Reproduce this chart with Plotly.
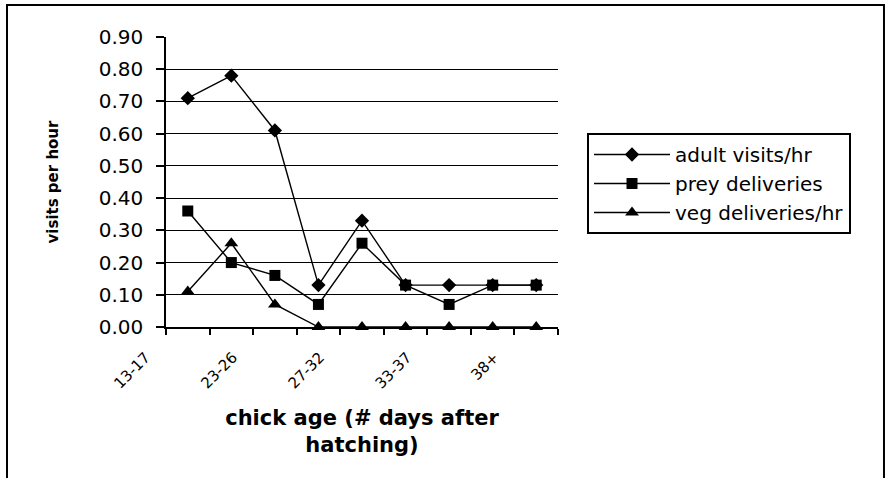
import plotly.graph_objects as go

# Chick age classes (every other class is labelled on the axis)
age_index = [1, 2, 3, 4, 5, 6, 7, 8, 9]
tick_positions = [1, 3, 5, 7, 9]
tick_labels = ["13-17", "23-26", "27-32", "33-37", "38+"]

# Visits per hour by chick age
adult_visits = [0.71, 0.78, 0.61, 0.13, 0.33, 0.13, 0.13, 0.13, 0.13]
prey_deliveries = [0.36, 0.20, 0.16, 0.07, 0.26, 0.13, 0.07, 0.13, 0.13]
veg_deliveries = [0.11, 0.26, 0.07, 0.00, 0.00, 0.00, 0.00, 0.00, 0.00]

y_ticks = [0.0, 0.1, 0.2, 0.3, 0.4, 0.5, 0.6, 0.7, 0.8, 0.9]
grid_values = [0.1, 0.2, 0.3, 0.4, 0.5, 0.6, 0.7, 0.8]

FONT = "DejaVu Sans"

series = [
    ("adult visits/hr", adult_visits, "diamond", 11),
    ("prey deliveries", prey_deliveries, "square", 11),
    ("veg deliveries/hr", veg_deliveries, "triangle-up", 12),
]

fig = go.Figure()

# empty trace that carries the gridline axis
fig.add_trace(go.Scatter(x=[], y=[], yaxis="y2", showlegend=False,
                         hoverinfo="skip"))

for name, values, symbol, size in series:
    fig.add_trace(go.Scatter(
        x=age_index, y=values, name=name, legendgroup=name,
        mode="lines+markers",
        line=dict(color="black", width=1.4),
        marker=dict(symbol=symbol, size=size, color="black"),
        cliponaxis=False,
    ))

fig.update_layout(
    width=887, height=478,
    margin=dict(l=166, r=329, t=37, b=151),
    paper_bgcolor="white", plot_bgcolor="white",
    font=dict(family=FONT, color="black"),
    showlegend=True,
    legend=dict(
        x=1.074, y=0.669, xanchor="left", yanchor="top",
        bordercolor="black", borderwidth=2,
        font=dict(size=20, family=FONT),
        traceorder="grouped", tracegroupgap=0,
        itemwidth=76,
    ),
    xaxis=dict(
        range=[0.5, 9.5],
        tickmode="array", tickvals=tick_positions, ticktext=tick_labels,
        ticks="", tickangle=-45,
        tickfont=dict(size=15, family=FONT),
        ticklabelshift=-42, ticklabelstandoff=14,
        minor=dict(tick0=0.5, dtick=1, ticks="outside", ticklen=6,
                   tickwidth=1.5, tickcolor="black"),
        showline=True, linecolor="black", linewidth=1.5,
        showgrid=False, zeroline=False,
        title=dict(text="<b>chick age (# days after<br>hatching)</b>",
                   font=dict(size=21, family=FONT), standoff=19),
    ),
    yaxis=dict(
        range=[0, 0.9],
        tickmode="array", tickvals=y_ticks, tickformat=".2f",
        ticks="outside", ticklen=8, tickwidth=1.5, tickcolor="black",
        tickfont=dict(size=20, family=FONT),
        ticklabelstandoff=9,
        showline=True, linecolor="black", linewidth=1.5,
        showgrid=False, zeroline=False,
        title=dict(text="<b>visits per hour</b>",
                   font=dict(size=15, family=FONT), standoff=36),
    ),
    # horizontal gridlines, stopping below the top of the value axis
    yaxis2=dict(
        overlaying="y", range=[0, 0.9],
        tickmode="array", tickvals=grid_values,
        showticklabels=False, ticks="",
        showgrid=True, gridcolor="black", gridwidth=1.3,
        showline=False, zeroline=False,
    ),
    shapes=[
        # outer chart frame
        dict(type="rect", xref="paper", yref="paper",
             x0=-0.4056, x1=1.8316, y0=-0.60, y1=1.1103,
             line=dict(color="black", width=2), layer="below"),
    ],
)

fig.write_html("out.html")
